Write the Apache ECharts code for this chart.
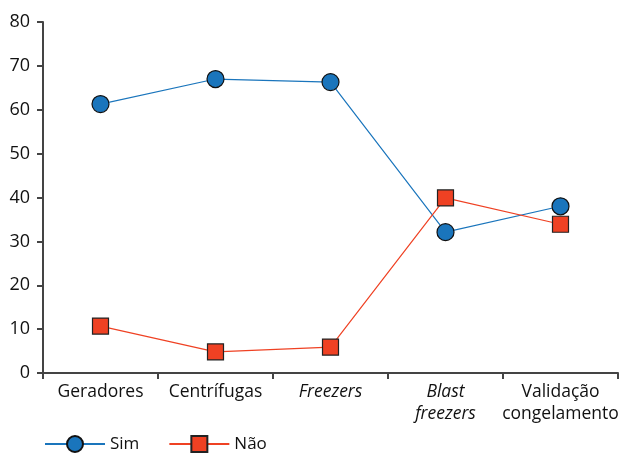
<!DOCTYPE html>
<html><head><meta charset="utf-8">
<script src="https://cdn.jsdelivr.net/npm/echarts@6/dist/echarts.min.js"></script>
<style>html,body{margin:0;padding:0;background:#fff}#c{width:623px;height:454px}</style>
</head><body><div id="c"></div>
<script>
const categories = ['Geradores', 'Centrífugas', 'Freezers', 'Blast\nfreezers', 'Validação\ncongelamento'];
const italicCats = ['Freezers', 'Blast\nfreezers'];
const simValues = [61.3, 67.0, 66.3, 32.1, 38.0];
const naoValues = [10.7, 4.8, 5.9, 39.9, 33.9];
const yTicks = [0, 10, 20, 30, 40, 50, 60, 70, 80];

const FONT = 'Open Sans';
const chart = echarts.init(document.getElementById('c'));
chart.setOption({
  animation: false,
  grid: {left: 43, right: 5, top: 22, bottom: 81, containLabel: false},
  legend: {
    left: 44, top: 435, padding: 0, itemWidth: 60, itemHeight: 20, itemGap: 29,
    textStyle: {fontFamily: FONT, fontSize: 17, color: '#111'},
    data: ['Sim', 'Não']
  },
  xAxis: {
    type: 'category', data: categories, boundaryGap: true,
    axisLine: {lineStyle: {color: '#444', width: 2}},
    axisTick: {show: true, interval: 0, length: 6, lineStyle: {color: '#444', width: 2}},
    axisLabel: {
      interval: 0, margin: 8, lineHeight: 22,
      fontFamily: FONT, fontSize: 17.5, color: '#111',
      formatter: v => italicCats.includes(v) ? v.split('\n').map(s => '{i|' + s + '}').join('\n') : v,
      rich: {i: {fontStyle: 'italic', fontFamily: FONT, fontSize: 17.5, color: '#111', lineHeight: 22}}
    }
  },
  yAxis: {
    type: 'value', min: 0, max: 80, interval: 10,
    splitLine: {show: false},
    axisLine: {show: true, lineStyle: {color: '#444', width: 2}},
    axisTick: {show: true, length: 6, lineStyle: {color: '#444', width: 2}},
    axisLabel: {fontFamily: FONT, fontSize: 18, color: '#111', margin: 13,
      formatter: v => yTicks.includes(v) ? String(v) : ''}
  },
  series: [
    {name: 'Sim', type: 'line', data: simValues, symbol: 'circle', symbolSize: 17,
     lineStyle: {color: '#1a75bc', width: 1.2},
     itemStyle: {color: '#1a75bc', borderColor: '#111', borderWidth: 1.2}},
    {name: 'Não', type: 'line', data: naoValues, symbol: 'rect', symbolSize: 16,
     lineStyle: {color: '#ef4123', width: 1.2},
     itemStyle: {color: '#ef4123', borderColor: '#222', borderWidth: 1.2}}
  ]
});
</script></body></html>
